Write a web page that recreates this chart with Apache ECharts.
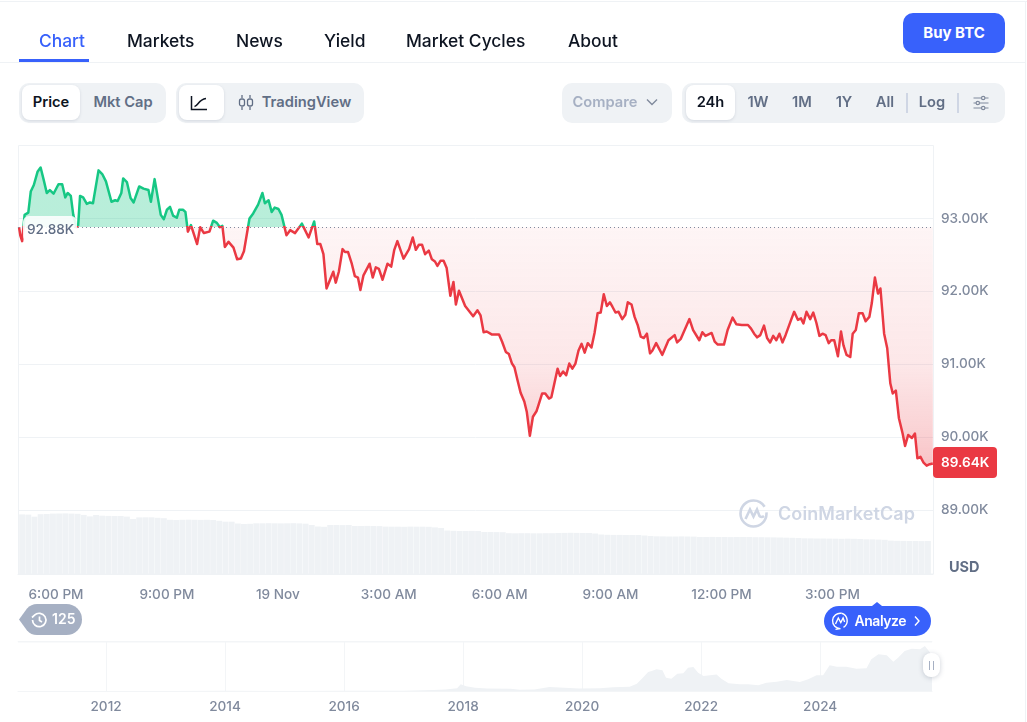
<!DOCTYPE html>
<html>
<head>
<meta charset="utf-8">
<script src="https://cdn.jsdelivr.net/npm/echarts@6/dist/echarts.min.js"></script>
<style>
html,body{margin:0;padding:0;background:#fff;width:1027px;height:722px;overflow:hidden;font-family:Inter,"Noto Sans",sans-serif;}
#chart{position:absolute;left:0;top:0;width:1027px;height:722px;}
.a{position:absolute;white-space:nowrap;}
.tab{top:30px;height:22px;line-height:22px;font-size:17.4px;font-weight:500;color:#0d1421;}
.box{background:#eff2f5;border-radius:10px;top:83px;height:40px;}
.pill{background:#fff;border-radius:8px;top:85px;height:35px;box-shadow:0 1px 3px rgba(88,102,126,.18);}
.seg{top:92px;height:20px;line-height:20px;font-size:14.7px;font-weight:600;color:#616e85;transform:translateX(-50%);}
</style>
</head>
<body>
<div id="chart"></div>

<div class="a" style="left:0;top:1px;width:1027px;height:1px;background:#eff2f5"></div>
<div class="a" style="left:1025px;top:1px;width:1px;height:721px;background:#eff2f5"></div>
<div class="a" style="left:0;top:62px;width:1026px;height:1px;background:#eff2f5"></div>
<div class="a tab" style="left:39px;color:#3861fb">Chart</div>
<div class="a tab" style="left:127px">Markets</div>
<div class="a tab" style="left:236px">News</div>
<div class="a tab" style="left:324px">Yield</div>
<div class="a tab" style="left:406px">Market Cycles</div>
<div class="a tab" style="left:568px">About</div>
<div class="a" style="left:19px;top:59px;width:70px;height:3px;background:#3861fb"></div>
<div class="a" style="left:903px;top:13px;width:102px;height:40px;border-radius:10px;background:#3861fb;color:#fff;font-size:15px;font-weight:700;line-height:40px;text-align:center">Buy BTC</div>

<div class="a box" style="left:19px;width:147px"></div>
<div class="a pill" style="left:22px;width:58px"></div>
<div class="a seg" style="left:51px;color:#0d1421">Price</div>
<div class="a seg" style="left:123px">Mkt Cap</div>

<div class="a box" style="left:176px;width:188px"></div>
<div class="a pill" style="left:179px;width:45px"></div>
<svg class="a" style="left:190px;top:95px" width="18" height="16" viewBox="0 0 18 16" fill="none" stroke="#0d1421" stroke-width="1.5"><path d="M1.5 1v13.5H17"/><path d="M4.5 11.5C8 11 8.5 4.5 16 3.5"/></svg>
<svg class="a" style="left:238px;top:94px" width="16" height="17" viewBox="0 0 16 17" fill="none" stroke="#616e85" stroke-width="1.3"><path d="M4 1v3M4 13v3M12 1v3M12 13v3"/><rect x="1.5" y="5" width="5" height="7" rx="2"/><rect x="9.5" y="5" width="5" height="7" rx="2"/></svg>
<div class="a seg" style="left:306.5px">TradingView</div>

<div class="a box" style="left:562px;width:110px"></div>
<div class="a seg" style="left:605px;color:#a6b0c3">Compare</div>
<svg class="a" style="left:646px;top:98px" width="12" height="8" viewBox="0 0 12 8" fill="none" stroke="#808a9d" stroke-width="1.4"><path d="M1 1.5l5 5 5-5"/></svg>

<div class="a box" style="left:682px;width:323px"></div>
<div class="a pill" style="left:686px;width:49px"></div>
<div class="a seg" style="left:710.5px;color:#0d1421">24h</div>
<div class="a seg" style="left:758px">1W</div>
<div class="a seg" style="left:802px">1M</div>
<div class="a seg" style="left:844px">1Y</div>
<div class="a seg" style="left:885px">All</div>
<div class="a" style="left:906px;top:93px;width:2px;height:20px;background:#cfd6e4"></div>
<div class="a seg" style="left:932px">Log</div>
<div class="a" style="left:957px;top:93px;width:2px;height:20px;background:#cfd6e4"></div>
<svg class="a" style="left:973px;top:95px" width="16" height="16" viewBox="0 0 16 16" fill="none" stroke="#808a9d" stroke-width="1.2"><path d="M0.5 3h8M12 3h3.5M0.5 8h2.5M6.5 8h9M0.5 13h8M12 13h3.5"/><circle cx="10.2" cy="3" r="1.7"/><circle cx="4.8" cy="8" r="1.7"/><circle cx="10.2" cy="13" r="1.7"/></svg>

<!-- watermark -->
<svg class="a" style="left:738px;top:498px" width="31" height="31" viewBox="0 0 31 31" fill="none" stroke="#cfd6e4" stroke-width="2.6"><path d="M15.5 2.5a13 13 0 1 0 13 13.2 13 13 0 0 0-13-13.2" stroke-dasharray="62 6"/><path d="M7.5 21l4.5-9.5 3.5 7 3.5-7 2.5 6.5q2 2 4.5 0"/></svg>
<div class="a" style="left:778px;top:503px;font-size:18px;font-weight:600;line-height:22px;color:#cfd6e4;letter-spacing:0.08px">CoinMarketCap</div>

<!-- history badge -->
<svg class="a" style="left:19px;top:604px" width="64" height="31" viewBox="0 0 64 31"><path d="M0 15.5L8 4.5Q12 0 18 0H47.5a15.5 15.5 0 0 1 0 31H18Q12 31 8 26.5Z" fill="#a6b0c3"/><g fill="none" stroke="#fff" stroke-width="1.7"><path d="M13.5 16a6.7 6.7 0 1 0 2-4.8L13 13.500"/><path d="M20.500 12.500v4l2.500 1.500"/></g></svg>
<div class="a" style="left:52px;top:610px;font-size:14px;font-weight:600;line-height:18px;color:#fff">125</div>

<!-- analyze -->
<svg class="a" style="left:824px;top:601px" width="107" height="36" viewBox="0 0 107 36"><path d="M48 5L53 1L58 5Z" fill="#3861fb"/><rect x="0" y="5" width="107" height="30" rx="15" fill="#3861fb"/><g fill="none" stroke="#fff" stroke-width="1.4"><path d="M17.500 12.300a7.700 7.700 0 1 0-1 15.300l-5 0.800" transform="translate(0,0)"/><path d="M17.500 12.300a7.700 7.700 0 0 1 2 14"/><path d="M11.500 23l2.800-6 2.500 4.500 2.300-4.500 1.500 4"/></g><path d="M91 15.500l4 4.500-4 4.500" fill="none" stroke="#fff" stroke-width="1.4"/></svg>
<div class="a" style="left:854.500px;top:611px;font-size:14px;font-weight:600;line-height:20px;color:#fff;letter-spacing:-0.45px">Analyze</div>

<!-- slider handle -->
<div class="a" style="left:923px;top:653px;width:17px;height:24px;border-radius:8px;background:#fff;box-shadow:0 1px 5px rgba(88,102,126,.3)"></div>
<div class="a" style="left:929px;top:661px;width:1px;height:9px;background:#a6b0c3"></div>
<div class="a" style="left:933px;top:661px;width:1px;height:9px;background:#a6b0c3"></div>

<script>
// Price: minutes after 6:00 PM and price in thousands of USD
const priceMinutes = [
-60,-58,-55,-51,-45,-41,-36,-30,-25,-20,-15,-10,-4,4,10,15,19,24,28,33,36,39,44,50,55,60,69,75,81,90,96,100,106,109,115,121,126,135,142,150,154,160,170,175,180,185,190,196,200,206,210,214,219,229,234,240,249,255,261,266,270,274,280,288,294,300,305,314,320,328,335,339,345,350,355,361,366,374,380,388,399,410,419,424,429,434,
439,450,454,459,465,469,474,480,485,490,494,499,509,514,519,524,530,538,544,549,554,564,573,579,584,589,594,599,605,610,615,619,624,629,634,640,645,649,654,664,677,684,689,694,699,707,719,724,730,735,740,744,749,754,760,764,769,774,780,783,789,794,800,804,814,818,823,828,833,838,843,848,853,858,863,869,874,879,884,889,894,899,903,908,913,919,
924,928,934,939,944,949,954,959,964,968,974,984,994,1004,1008,1014,1028,1034,1044,1049,1054,1064,1069,1074,1084,1090,1098,1104,1113,1123,1128,1133,1138,1143,1149,1154,1159,1164,1169,1174,1179,1184,1193,1198,1204,1209,1213,1218,1224,1229,1234,1239,1244,1249,1254,1258,1263,1269,1274,1278,1283,1289,1293,1298,1303,1309,1314,1320,1324,1329,1334,1338,1344,1349,1354,1358,1363,1368,1374,1378,1383,1389,1394,1398,1403,1408,1413,1418,1423];
const priceValues = [
92.88,92.77,92.69,93.05,93.08,93.37,93.46,93.64,93.70,93.53,93.35,93.39,93.34,93.47,93.47,93.29,93.35,93.31,93.05,92.88,92.91,93.31,93.29,93.20,93.22,93.21,93.66,93.61,93.51,93.23,93.25,93.24,93.35,93.55,93.50,93.28,93.22,93.44,93.41,93.39,93.23,93.54,93.05,92.99,93.12,93.16,93.04,93.01,93.12,93.12,93.09,92.82,92.91,92.65,92.88,92.80,92.82,92.97,92.94,92.88,92.90,92.61,92.68,92.60,92.44,92.45,92.55,93.00,93.07,93.19,93.35,93.21,93.25,93.09,93.15,93.13,93.05,92.77,92.84,92.80,92.93,92.74,92.96,92.65,92.65,92.51,
92.04,92.27,92.12,92.27,92.58,92.54,92.54,92.38,92.21,92.19,92.02,92.22,92.38,92.19,92.33,92.31,92.16,92.38,92.34,92.57,92.69,92.45,92.58,92.74,92.57,92.64,92.64,92.51,92.56,92.44,92.41,92.35,92.42,92.42,92.32,91.94,92.13,91.82,92.01,91.80,91.66,91.74,91.67,91.44,91.45,91.41,91.41,91.31,91.17,91.14,91.01,90.96,90.78,90.61,90.49,90.35,90.02,90.28,90.36,90.44,90.60,90.60,90.53,90.55,90.94,90.84,90.90,90.85,91.01,90.94,91.01,91.19,91.28,91.16,91.29,91.23,91.43,91.70,91.71,91.96,91.80,91.85,91.79,91.71,91.72,91.62,
91.68,91.85,91.82,91.65,91.54,91.38,91.36,91.42,91.15,91.19,91.29,91.13,91.33,91.40,91.30,91.35,91.62,91.47,91.33,91.44,91.39,91.43,91.31,91.27,91.27,91.47,91.64,91.55,91.54,91.54,91.49,91.42,91.37,91.40,91.53,91.36,91.30,91.39,91.33,91.42,91.30,91.40,91.61,91.72,91.61,91.63,91.56,91.72,91.62,91.71,91.57,91.39,91.42,91.40,91.29,91.33,91.33,91.11,91.45,91.26,91.13,91.10,91.42,91.47,91.70,91.70,91.59,91.65,91.84,92.19,91.97,92.04,91.42,91.22,90.74,90.60,90.64,90.26,90.05,89.88,90.03,89.99,90.05,89.71,89.73,89.65,89.61,89.63,89.64];
const baselinePrice = 92.88;
const lastPrice = 89.64;

// 24h volume readings, one every 10 minutes from volumeStart
const volumeStart = -55;
const volumeStep = 10;
const volumeValues = [
59.6,59.4,57.3,59.8,60,60.4,60.5,60.6,60.4,60.2,59.1,57.6,59,58.3,58.1,58,58,57.4,55,56.6,56.7,56.7,56.2,55.8,54.2,54,54.2,54.3,54.2,54.1,54.2,54,53.2,52.3,52.3,50.5,50,50.2,50.7,50.7,50.8,50.7,50.6,50.7,50.8,50.6,50.3,49,47.5,47.2,49,49,48.9,49,48,48,48.1,48,47.9,47.4,47.3,47.3,47.2,47.4,47.3,47.3,47.2,46.6,46,43.5,43.2,43,43,43.1,43,42,42,41.9,41.8,40.8,40.7,40.8,40.8,40.7,40.7,40.8,40.8,41,41.1,41.2,41.1,41,41,40.5,39.5,39.2,39.1,39.1,39,39,39,38.5,38,37.7,37.6,37.5,37.5,37.6,37.5,37.4,37,37,37.1,37,37,36.9,37,37,37,36.8,36.8,36.7,36.6,36.5,36.3,36.2,36,35.7,35.6,35.5,35.5,35.4,35.3,35.2,35.3,35.2,35,34.7,34.6,34.4,34.2,33.4,33.2,33.1,33,33,32.9,33];

// Navigator: all-time history, year and price in thousands of USD
const historyYears = [2010.52,2013,2014,2015,2016,2017,2017.5,2017.7,2017.9,2017.96,2018.05,2018.2,2018.4,2018.8,2018.95,2019.2,2019.45,2019.7,2019.95,2020.30,2020.52,2020.80,2020.92,2021.02,2021.11,2021.17,2021.25,2021.35,2021.41,2021.50,2021.60,2021.70,2021.78,2021.87,2021.95,2022.04,2022.15,2022.26,2022.34,2022.46,2022.65,2022.79,2022.96,2023.10,2023.27,2023.44,2023.66,2023.80,2023.94,2024.05,2024.16,2024.28,2024.44,2024.61,2024.78,2024.86,2024.98,2025.12,2025.23,2025.31,2025.42,2025.54,2025.68,2025.76,2025.84,2025.88];
const historyValues = [0.01,0.1,0.6,0.3,0.4,1,2.5,4,8,19,13,9,7,6.5,3.5,4,11,9,7.2,7.5,10.3,12,20.5,37,53,56,61,58,37,34.5,48.5,49.5,65,67,51,42,44,46.5,34.5,21.5,18.7,18.7,16,23,26,31,25,32.7,44,44,72,68,68,62.5,63.5,88.6,102.6,100,82,93,112,118.5,116.6,126,109,92];

const timeTickMinutes = [0,180,360,540,720,900,1080,1260];
const timeTickLabels = ['6:00 PM','9:00 PM','19 Nov','3:00 AM','6:00 AM','9:00 AM','12:00 PM','3:00 PM'];
const priceTicks = [89,90,91,92,93];
const yearTicks = [2012,2014,2016,2018,2020,2022,2024];

const GREY = '#808a9d', RULE = '#eff2f5', FAINT = '#f3f5f7', RED = '#ea3943', GREEN = '#16c784';
const maxP = Math.max(...priceValues), minP = Math.min(...priceValues);
const split = (maxP - baselinePrice) / (maxP - minP);
const below = f => split + (1 - split) * f;
const grad = (stops) => new echarts.graphic.LinearGradient(0, 0, 0, 1, stops);

const labelStyle = {color: GREY, fontFamily: 'Inter', fontSize: 13.6, fontWeight: 500};
const chart = echarts.init(document.getElementById('chart'), null, {renderer: 'canvas', width: 1027, height: 722});
chart.setOption({
  animation: false,
  backgroundColor: 'transparent',
  grid: [
    {left: 18, width: 915, top: 145.6, height: 437.4},
    {left: 18, width: 915, top: 504, height: 70},
    {left: 18, width: 914, top: 641, height: 50}
  ],
  xAxis: [
    {type: 'value', gridIndex: 0, min: -61.7, max: 1423.3, show: false},
    {type: 'value', gridIndex: 1, min: -61.7, max: 1423.3,
      axisLine: {show: true, lineStyle: {color: RULE}}, axisTick: {show: false, customValues: timeTickMinutes},
      splitLine: {show: false},
      axisLabel: {...labelStyle, margin: 13.5, customValues: timeTickMinutes,
        formatter: v => timeTickLabels[timeTickMinutes.indexOf(v)]}},
    {type: 'value', gridIndex: 2, min: 2010.52, max: 2025.88,
      axisLine: {show: true, lineStyle: {color: FAINT}}, axisTick: {show: false, customValues: yearTicks},
      splitLine: {show: true, lineStyle: {color: FAINT}},
      axisLabel: {...labelStyle, margin: 8.5, customValues: yearTicks, formatter: v => String(v)}}
  ],
  yAxis: [
    {type: 'value', gridIndex: 0, position: 'right', min: 88, max: 94, interval: 1,
      axisLine: {show: false}, axisTick: {show: false, customValues: priceTicks},
      splitLine: {show: true, lineStyle: {color: RULE}},
      axisLabel: {...labelStyle, margin: 8, padding: [2, 0, 0, 0], customValues: priceTicks, formatter: v => v.toFixed(2) + 'K'}},
    {type: 'value', gridIndex: 1, min: 0, max: 70, show: false},
    {type: 'value', gridIndex: 2, min: 0, max: 140, show: false}
  ],
  series: [
    {type: 'bar', xAxisIndex: 1, yAxisIndex: 1, z: 1, barWidth: 5.9, silent: true,
      data: volumeValues.map((v, i) => [volumeStart + i * volumeStep, v]),
      itemStyle: {color: RULE}},
    {type: 'line', xAxisIndex: 0, yAxisIndex: 0, z: 3, symbol: 'none', silent: true,
      data: priceMinutes.map((m, i) => [m, priceValues[i]]),
      lineStyle: {width: 2.5, join: 'round', color: grad([
        {offset: 0, color: GREEN}, {offset: split, color: GREEN},
        {offset: split, color: RED}, {offset: 1, color: RED}])},
      areaStyle: {origin: baselinePrice, opacity: 1, color: grad([
        {offset: 0, color: 'rgba(22,199,132,0.30)'}, {offset: split, color: 'rgba(22,199,132,0.30)'},
        {offset: split, color: 'rgba(234,57,67,0.05)'}, {offset: below(0.58), color: 'rgba(234,57,67,0.12)'},
        {offset: below(0.84), color: 'rgba(234,57,67,0.22)'}, {offset: 1, color: 'rgba(234,57,67,0.30)'}])},
      markLine: {silent: true, symbol: 'none', animation: false, label: {show: false}, z: 5,
        lineStyle: {color: '#808a9d', width: 1, type: [1, 3], opacity: 1},
        data: [{yAxis: baselinePrice}]}},
    {type: 'line', xAxisIndex: 2, yAxisIndex: 2, z: 1, symbol: 'none', silent: true,
      data: historyYears.map((y, i) => [y, historyValues[i]]),
      lineStyle: {width: 0}, areaStyle: {color: RULE, opacity: 1}}
  ],
  graphic: [
    {type: 'rect', silent: true, z: 0, shape: {x: 18.5, y: 145.5, width: 915, height: 428.5},
      style: {fill: 'none', stroke: RULE, lineWidth: 1}},
    {type: 'rect', silent: true, z: 0, shape: {x: 18, y: 641.5, width: 914, height: 0.5},
      style: {fill: 'none', stroke: FAINT, lineWidth: 1}},
    {type: 'rect', silent: true, z: 20, shape: {x: 23, y: 216, width: 54, height: 26, r: 6},
      style: {fill: 'rgba(255,255,255,0.88)'}},
    {type: 'text', silent: true, z: 21, x: 27, y: 223,
      style: {text: baselinePrice.toFixed(2) + 'K', fill: '#616e85', font: '500 13.6px Inter'}},
    {type: 'rect', silent: true, z: 20, shape: {x: 933, y: 447, width: 64, height: 31, r: 4},
      style: {fill: RED}},
    {type: 'text', silent: true, z: 21, x: 941, y: 456,
      style: {text: lastPrice.toFixed(2) + 'K', fill: '#fff', font: '600 13.6px Inter'}},
    {type: 'text', silent: true, z: 21, x: 949, y: 560,
      style: {text: 'USD', fill: '#616e85', font: '700 14.5px Inter'}}
  ]
});
</script>
</body>
</html>
